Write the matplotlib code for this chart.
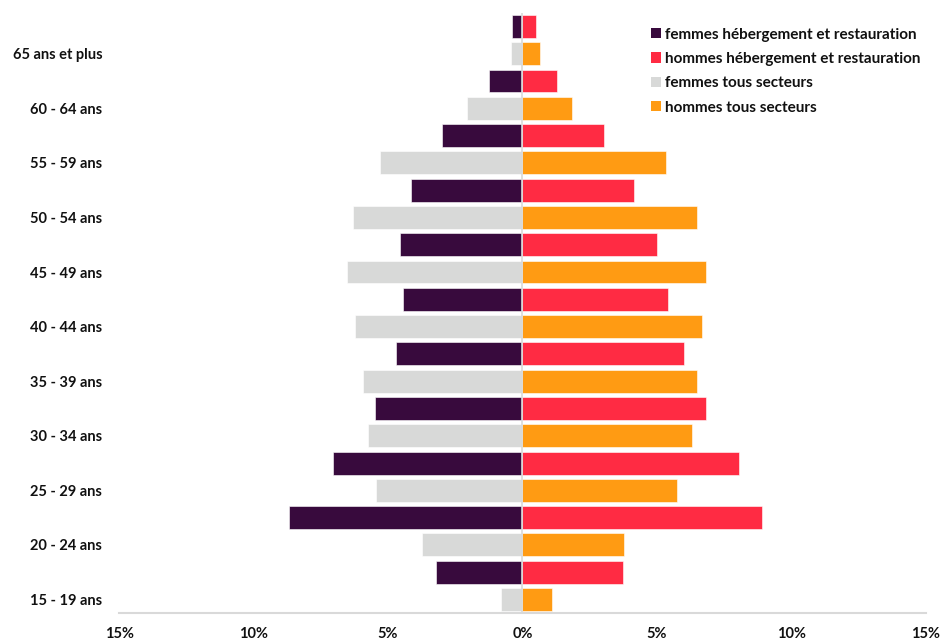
import matplotlib
matplotlib.use("Agg")
import matplotlib.pyplot as plt
from matplotlib.patches import Patch
import numpy as np

plt.rcParams['font.family'] = ['Lato', 'DejaVu Sans']
plt.rcParams['font.weight'] = 'bold'

ages = ["15 - 19 ans", "20 - 24 ans", "25 - 29 ans", "30 - 34 ans", "35 - 39 ans",
        "40 - 44 ans", "45 - 49 ans", "50 - 54 ans", "55 - 59 ans", "60 - 64 ans",
        "65 ans et plus"]
femmes_heb = [3.21, 8.67, 7.04, 5.48, 4.70, 4.44, 4.54, 4.15, 3.01, 1.23, 0.39]
hommes_heb = [3.72, 8.90, 8.06, 6.83, 5.99, 5.40, 5.00, 4.16, 3.03, 1.29, 0.50]
femmes_tous = [0.79, 3.75, 5.43, 5.74, 5.94, 6.22, 6.52, 6.32, 5.28, 2.07, 0.43]
hommes_tous = [1.09, 3.76, 5.74, 6.29, 6.48, 6.68, 6.83, 6.48, 5.35, 1.83, 0.64]
xticks = [-15, -10, -5, 0, 5, 10, 15]
xtick_labels = ["15%", "10%", "5%", "0%", "5%", "10%", "15%"]
series_names = ["femmes hébergement et restauration", "hommes hébergement et restauration",
                "femmes tous secteurs", "hommes tous secteurs"]

c_fh = "#380a3d"
c_hh = "#ff2b43"
c_ft = "#d8d9d8"
c_ht = "#ff9b13"

fig = plt.figure(figsize=(9.41, 6.4), dpi=100)
ax = fig.add_axes([0.1265, 0.042, 0.984 - 0.1265, 0.98 - 0.042])

n = len(ages)
y_tous = np.arange(n) * 2
y_heb = y_tous + 1
h = 0.84

ax.barh(y_heb, -np.array(femmes_heb), height=h, color=c_fh, edgecolor="white", linewidth=0.4, zorder=2)
ax.barh(y_heb, hommes_heb, height=h, color=c_hh, edgecolor="white", linewidth=0.4, zorder=2)
ax.barh(y_tous, -np.array(femmes_tous), height=h, color=c_ft, edgecolor="white", linewidth=0.4, zorder=2)
ax.barh(y_tous, hommes_tous, height=h, color=c_ht, edgecolor="white", linewidth=0.4, zorder=2)

ax.set_xlim(-15, 15)
ax.set_ylim(-0.5, 2 * n - 0.5)
ax.axvline(0, color="#d9d9d9", linewidth=1.2, zorder=3)

ax.set_xticks(xticks)
ax.set_xticklabels(xtick_labels, fontsize=10.5, fontweight="bold", color="#111111")
ax.set_yticks(y_tous)
ax.set_yticklabels(ages, fontsize=10.5, fontweight="bold", color="#111111")
ax.tick_params(axis="x", length=0, pad=10)
ax.tick_params(axis="y", length=0, pad=12)

for s in ["top", "right", "left"]:
    ax.spines[s].set_visible(False)
ax.spines["bottom"].set_color("#d9d9d9")
ax.spines["bottom"].set_linewidth(1.5)

handles = [Patch(facecolor=c, edgecolor="none") for c in [c_fh, c_hh, c_ft, c_ht]]
leg = fig.legend(handles, series_names, loc="upper left", bbox_to_anchor=(0.6918, 0.957),
                 frameon=False, borderpad=0, borderaxespad=0,
                 handlelength=0.65, handleheight=0.65, handletextpad=0.3,
                 labelspacing=0.68, prop={"weight": "bold", "size": 11})
for t in leg.get_texts():
    t.set_color("#111111")

fig.savefig("out.png", dpi=100)
